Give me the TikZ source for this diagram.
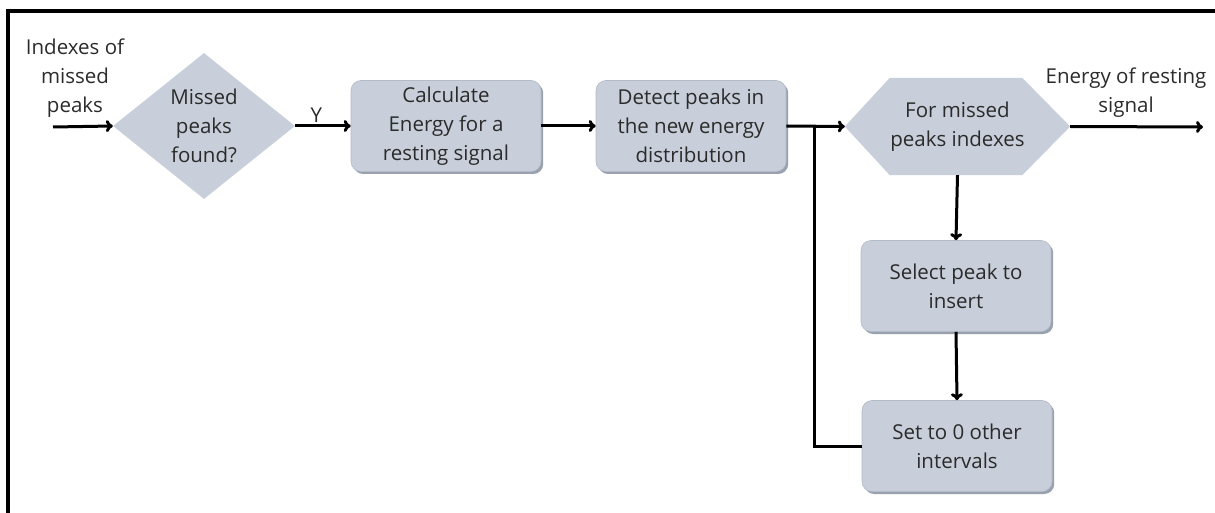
\documentclass[tikz,border=0pt]{standalone}
\usepackage{fontspec}
\setmainfont{Open Sans}
\usetikzlibrary{arrows.meta,shapes.geometric,shadows,calc,backgrounds}
\definecolor{boxfill}{HTML}{C8CFDA}
\definecolor{boxshadow}{HTML}{98A1AD}
\definecolor{boxline}{HTML}{B3BBC6}
\definecolor{txt}{HTML}{2B2B2B}
\begin{document}
\begin{tikzpicture}[x=1pt,y=-1pt,
  every node/.style={font=\fontsize{20.5}{29}\selectfont, text=txt, align=center},
  procbox/.style={rectangle, rounded corners=10pt, fill=boxfill, draw=boxline, line width=0.6pt,
    minimum width=190pt, minimum height=91pt, inner sep=0pt,
    drop shadow={shadow xshift=2.2pt, shadow yshift=-2.5pt, fill=boxshadow, opacity=1}},
  decision/.style={diamond, fill=boxfill, inner sep=0pt, minimum width=182pt, minimum height=146pt},
  hexbox/.style={rectangle, inner sep=0pt, minimum width=225pt, minimum height=97pt},
  flow/.style={line width=3pt, -{To[length=7pt,width=12pt]}},
  plain/.style={line width=3pt}
]
\useasboundingbox (0,0) rectangle (1215,513);
\draw[line width=3.2pt] (8,513) -- (8,11) -- (1215,11);

\node (inlabel) at (75,78) {Indexes of\\missed\\peaks};
\coordinate (instart) at (53,127);
\node[decision] (dec) at (204,126) {Missed\\peaks\\found?};
\node[procbox] (calc) at (446,126) {Calculate\\Energy for a\\resting signal};
\node[procbox] (detect) at (691,126) {Detect peaks in\\the new energy\\distribution};
\node[hexbox] (hex) at (957.5,126.5) {For missed\\peaks indexes};
\begin{scope}[on background layer]
\fill[boxfill] (hex.west) -- ($(hex.north west)+(45,0)$) -- ($(hex.north east)+(-48,0)$) -- (hex.east)
  -- ($(hex.south east)+(-48,0)$) -- ($(hex.south west)+(45,0)$) -- cycle;
\end{scope}
\node[procbox] (select) at (956,286) {Select peak to\\insert};
\node[procbox] (setzero) at (957,446) {Set to 0 other\\intervals};
\coordinate (outend) at (1203,127);
\node (outlabel) at (1126,93) {Energy of resting\\signal};
\coordinate (junction) at (814,127);

\draw[flow] (instart) -- (dec.west);
\draw[flow] (dec.east) -- node[above, pos=0.38, yshift=-1pt] (ylabel) {Y} (calc.west);
\draw[flow] (calc.east) -- (detect.west);
\draw[flow] (detect.east) -- (hex.west);
\draw[flow] (hex.east) -- (outend);
\draw[flow] (hex.south) -- (select.north);
\draw[flow] (select.south) -- (setzero.north);
\draw[plain] (setzero.west) -| (junction);
\end{tikzpicture}
\end{document}
